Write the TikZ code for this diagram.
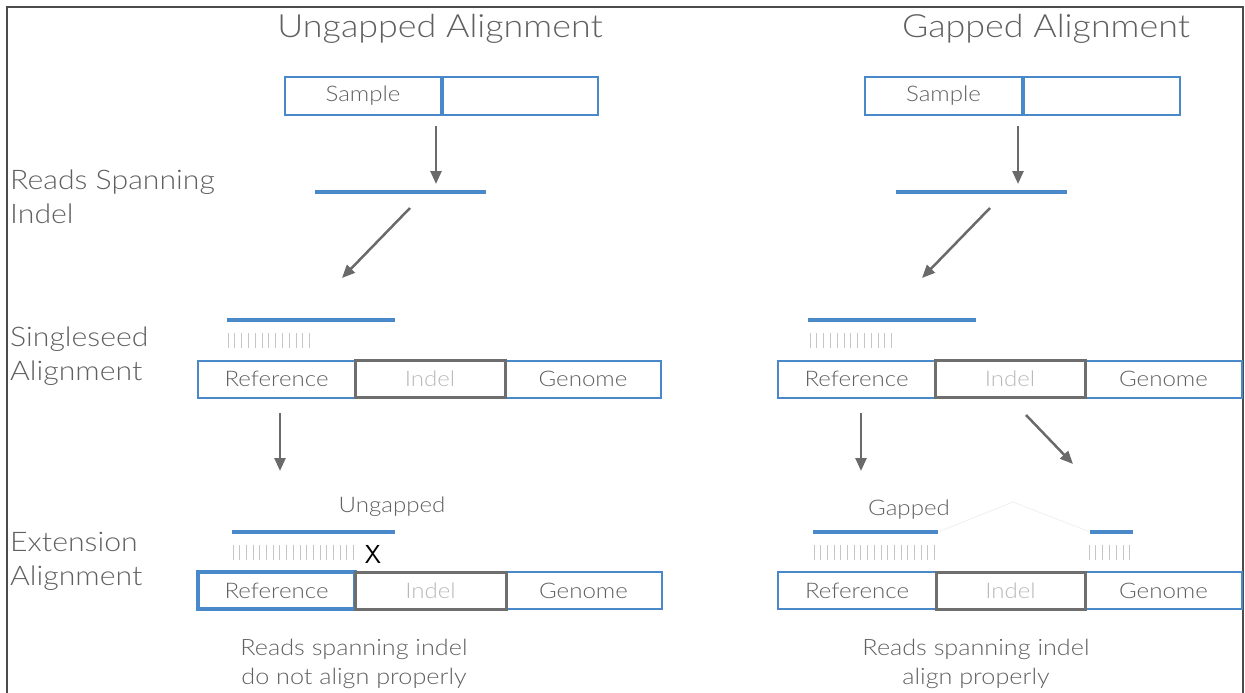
\documentclass[tikz,border=0pt]{standalone}
\usepackage{fontspec}
\setmainfont{Lato Light}[FakeStretch=1.12]
\usetikzlibrary{arrows.meta}
\definecolor{bl}{HTML}{4A89C9}
\definecolor{gbox}{HTML}{6E6E6E}
\definecolor{txt}{HTML}{606060}
\definecolor{arr}{HTML}{6A6A6A}
\tikzset{
  bluebox/.style={draw=bl,line width=2pt,minimum height=37pt,inner sep=0pt,text=txt,font=\fontsize{21.5}{24}\selectfont},
  graybox/.style={draw=gbox,line width=3pt,minimum height=37pt,inner sep=0pt,text=gray!55,font=\fontsize{21.5}{24}\selectfont},
  title/.style={text=txt,font=\fontsize{32}{36}\selectfont,inner sep=0pt},
  lbl/.style={text=txt,font=\fontsize{27}{34}\selectfont,align=left,anchor=west,inner sep=0pt},
  note/.style={text=txt,font=\fontsize{22.5}{29}\selectfont,align=center,inner sep=0pt},
  sub/.style={text=txt,font=\fontsize{21.5}{24}\selectfont,inner sep=0pt},
  readline/.style={draw=bl,line width=3.5pt},
  arrowline/.style={draw=arr,line width=2.5pt,-{Triangle[length=13pt,width=11pt]}},
  tick/.style={draw=gray!45,line width=0.9pt}
}
\begin{document}
\begin{tikzpicture}[x=1pt,y=-1pt]
\useasboundingbox (0,0) rectangle (1245,693);
\draw[line width=2pt,draw=black!70] (7,693) -- (7,7) -- (1243,7) -- (1243,693);

% titles
\node[title] (t1) at (440,29) {Ungapped Alignment};
\node[title] (t2) at (1046,29) {Gapped Alignment};

% row labels
\node[lbl] (l1) at (10,197) {Reads Spanning\\Indel};
\node[lbl] (l2) at (10,356) {Singleseed\\Alignment};
\node[lbl] (l3) at (10,561) {Extension\\Alignment};

% ---------- left column ----------
\node[bluebox,minimum width=156pt] (sA) at (363,96) {Sample};
\node[bluebox,minimum width=155pt] (sB) at (520.5,96) {};
\coordinate (a1s) at (436,126);
\coordinate (a1e) at (436,184);
\draw[arrowline] (a1s) -- (a1e);
\coordinate (r1a) at (315,192); \coordinate (r1b) at (486,192);
\draw[readline] (r1a) -- (r1b);
\coordinate (a2s) at (410,208); \coordinate (a2e) at (342,278);
\draw[arrowline] (a2s) -- (a2e);
\coordinate (r2a) at (227,320); \coordinate (r2b) at (395,320);
\draw[readline] (r2a) -- (r2b);
\foreach \i in {0,...,12} \draw[tick] (228+\i*6.8,333) -- (228+\i*6.8,348);
\node[bluebox,minimum width=157pt] (rA) at (276.5,379) {Reference};
\node[bluebox,minimum width=156pt] (gA) at (583,379) {Genome};
\node[graybox,minimum width=150pt] (iA) at (430,379) {Indel};
\coordinate (a3s) at (280,413); \coordinate (a3e) at (280,471);
\draw[arrowline] (a3s) -- (a3e);
\node[sub] (ug) at (392,507) {Ungapped};
\coordinate (r3a) at (232,532); \coordinate (r3b) at (395,532);
\draw[readline] (r3a) -- (r3b);
\foreach \i in {0,...,18} \draw[tick] (233+\i*6.7,545) -- (233+\i*6.7,560);
\node[font=\fontsize{26}{26}\selectfont\sffamily,inner sep=0pt] (xx) at (373,554) {X};
\node[bluebox,minimum width=157pt,line width=3.5pt] (rB) at (276.5,590.5) {Reference};
\node[bluebox,minimum width=156pt] (gB) at (583.5,590.5) {Genome};
\node[graybox,minimum width=151pt] (iB) at (430.5,590.5) {Indel};
\node[note] (n1) at (354,664) {Reads spanning indel\\do not align properly};

% ---------- right column ----------
\node[bluebox,minimum width=157pt] (sC) at (943.5,96) {Sample};
\node[bluebox,minimum width=156pt] (sD) at (1102,96) {};
\coordinate (b1s) at (1018,126); \coordinate (b1e) at (1018,184);
\draw[arrowline] (b1s) -- (b1e);
\coordinate (q1a) at (896,192); \coordinate (q1b) at (1067,192);
\draw[readline] (q1a) -- (q1b);
\coordinate (b2s) at (990,208); \coordinate (b2e) at (922,278);
\draw[arrowline] (b2s) -- (b2e);
\coordinate (q2a) at (808,320); \coordinate (q2b) at (976,320);
\draw[readline] (q2a) -- (q2b);
\foreach \i in {0,...,12} \draw[tick] (810+\i*6.8,333) -- (810+\i*6.8,348);
\node[bluebox,minimum width=157pt] (rC) at (856.5,379) {Reference};
\node[bluebox,minimum width=157pt] (gC) at (1163.5,379) {Genome};
\node[graybox,minimum width=150pt] (iC) at (1010,379) {Indel};
\coordinate (b3s) at (861,413); \coordinate (b3e) at (861,471);
\draw[arrowline] (b3s) -- (b3e);
\coordinate (b4s) at (1026,415); \coordinate (b4e) at (1073,464);
\draw[arrowline] (b4s) -- (b4e);
\node[sub] (gp) at (909,510) {Gapped};
\coordinate (q3a) at (813,532); \coordinate (q3b) at (938,532);
\draw[readline] (q3a) -- (q3b);
\coordinate (q4a) at (1090,532); \coordinate (q4b) at (1133,532);
\draw[readline] (q4a) -- (q4b);
\coordinate (apex) at (1013,502);
\draw[gray!15,line width=0.6pt] (q3b) -- (apex) -- (q4a);
\foreach \i in {0,...,18} \draw[tick] (814+\i*6.7,545) -- (814+\i*6.7,560);
\foreach \i in {0,...,6} \draw[tick] (1089+\i*6.8,545) -- (1089+\i*6.8,560);
\node[bluebox,minimum width=158pt] (rD) at (857,590.5) {Reference};
\node[bluebox,minimum width=157pt] (gD) at (1163.5,590.5) {Genome};
\node[graybox,minimum width=149pt] (iD) at (1010.5,590.5) {Indel};
\node[note] (n2) at (976,664) {Reads spanning indel\\align properly};
\end{tikzpicture}
\end{document}
